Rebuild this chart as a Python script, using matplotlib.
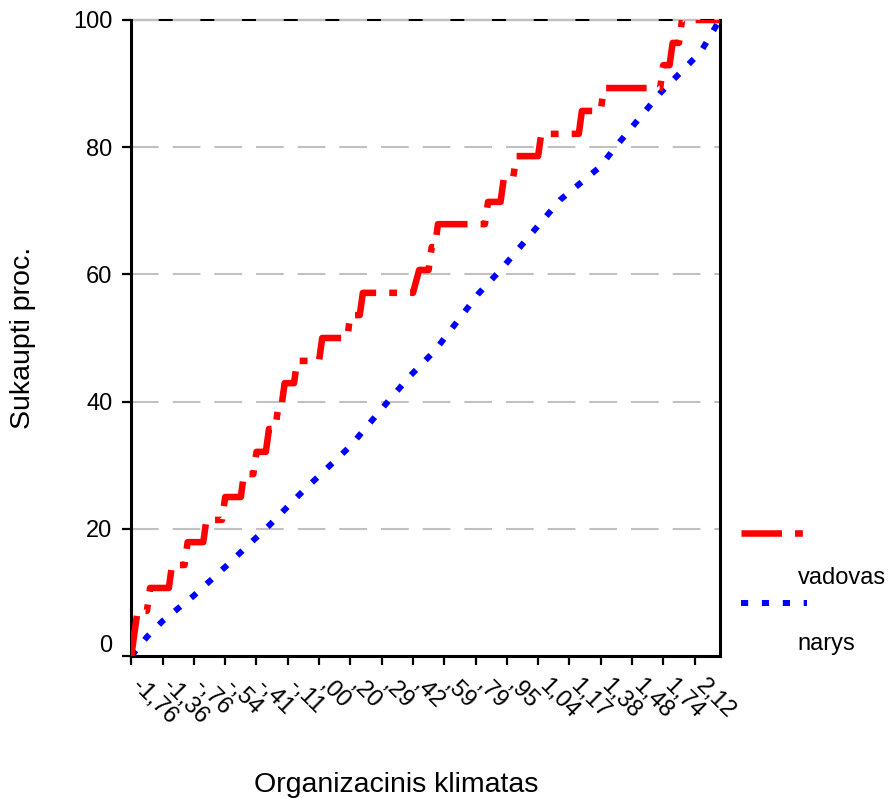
import matplotlib
matplotlib.use("Agg")
import matplotlib.pyplot as plt
import matplotlib.transforms as mtransforms
from matplotlib.lines import Line2D

plt.rcParams['font.family'] = ['Liberation Sans', 'DejaVu Sans']

# category positions (index of unique value) and cumulative percent
vadovas_x = [0, 1, 2, 5, 6, 12, 13, 17, 18, 23, 24, 29, 30, 35, 36, 39, 40, 43, 44,
             46, 47, 48, 49, 52, 53, 60, 61, 69, 70, 73, 74, 90, 92, 95, 96, 97, 98,
             113, 114, 118, 119, 122, 123, 130, 131, 143, 144, 150, 151, 169, 170,
             172, 173, 175, 176, 188]
vadovas_y = [0, 3.6, 7.1, 7.1, 10.7, 10.7, 14.3, 14.3, 17.9, 17.9, 21.4, 21.4, 25.0,
             25.0, 28.6, 28.6, 32.1, 32.1, 35.7, 35.7, 39.3, 39.3, 42.9, 42.9, 46.4,
             46.4, 50.0, 50.0, 53.6, 53.6, 57.1, 57.1, 60.7, 60.7, 64.3, 64.3, 67.9,
             67.9, 71.4, 71.4, 75.0, 75.0, 78.6, 78.6, 82.1, 82.1, 85.7, 85.7, 89.3,
             89.3, 92.9, 92.9, 96.4, 96.4, 100, 100]

narys_x = [0, 5, 10, 20, 30, 44, 55, 70, 82, 89, 97, 111, 118, 137, 150, 154, 169, 182, 188]
narys_y = [0, 3, 5.5, 9.5, 14, 20.5, 26, 33, 40, 44, 48, 57, 60.7, 71.7, 77, 79.6, 88.5, 95, 100]

tick_pos = list(range(0, 181, 10))
tick_labels = ["-1,76", "-1,36", "-,76", "-,54", "-,41", "-,11", ",00", ",20", ",29",
               ",42", ",59", ",79", ",95", "1,04", "1,17", "1,38", "1,48", "1,74", "2,12"]
y_ticks = [0, 20, 40, 60, 80, 100]

RED_STYLE = dict(color='#ff0000', linewidth=4.7, linestyle=(0, (6.2, 2.0, 1.2, 2.0)),
                 dash_capstyle='butt', solid_capstyle='butt')
BLUE_STYLE = dict(color='#0000ff', linewidth=4.3, linestyle=(0, (1.2, 2.3)),
                  dash_capstyle='butt', solid_capstyle='butt')

fig = plt.figure(figsize=(8.9, 7.98), dpi=100)
ax = fig.add_axes([131.3 / 890, 1 - 656 / 798, 588.3 / 890, 636 / 798])

# grid lines; the 100 line has black showing in the gaps of the gray dashes
ax.axhline(100, color='black', linewidth=1.5, zorder=1, clip_on=False)
for yv in y_ticks[1:]:
    ax.axhline(yv, color='#c0c0c0', linewidth=1.5, linestyle=(0, (13.3, 6.7)),
               dash_capstyle='butt', zorder=1.5, clip_on=False)

ax.plot(narys_x, narys_y, zorder=3, **BLUE_STYLE)
ax.plot(vadovas_x, vadovas_y, zorder=4, **RED_STYLE)

ax.set_xlim(0, 188)
ax.set_ylim(0, 100)

ax.spines['top'].set_visible(False)
for s in ['left', 'right', 'bottom']:
    ax.spines[s].set_linewidth(2.2)

ax.set_yticks(y_ticks)
ax.set_yticklabels([str(v) for v in y_ticks], fontsize=17)
ax.set_xticks(tick_pos)
ax.set_xticklabels(tick_labels, fontsize=17, rotation=-45, ha='left', va='top',
                   rotation_mode='anchor')
ax.tick_params(axis='both', direction='out', length=6.5, width=1.6, pad=7)

shift = mtransforms.ScaledTranslation(12 / 100, 0, fig.dpi_scale_trans)
for lab in ax.get_xticklabels():
    lab.set_transform(lab.get_transform() + shift)
up = mtransforms.ScaledTranslation(0, 13 / 100, fig.dpi_scale_trans)
ylabs = ax.get_yticklabels()
ylabs[0].set_transform(ylabs[0].get_transform() + up)

ax.set_ylabel("Sukaupti proc.", fontsize=20.5)
ax.yaxis.set_label_coords(-0.162, 0.5)
ax.set_xlabel("Organizacinis klimatas", fontsize=20.5, va='top')
ax.xaxis.set_label_coords(0.451, -0.182)

# legend drawn outside the plot, text under each line sample
fig.add_artist(Line2D([741 / 890, 807 / 890], [1 - 532.7 / 798] * 2,
                      transform=fig.transFigure, **RED_STYLE))
fig.add_artist(Line2D([741 / 890, 807 / 890], [1 - 603 / 798] * 2,
                      transform=fig.transFigure, **BLUE_STYLE))
fig.text(797.7 / 890, 1 - 584 / 798, "vadovas", fontsize=17, va='baseline', ha='left')
fig.text(797.7 / 890, 1 - 650 / 798, "narys", fontsize=17, va='baseline', ha='left')

plt.savefig("out.png", dpi=100)
